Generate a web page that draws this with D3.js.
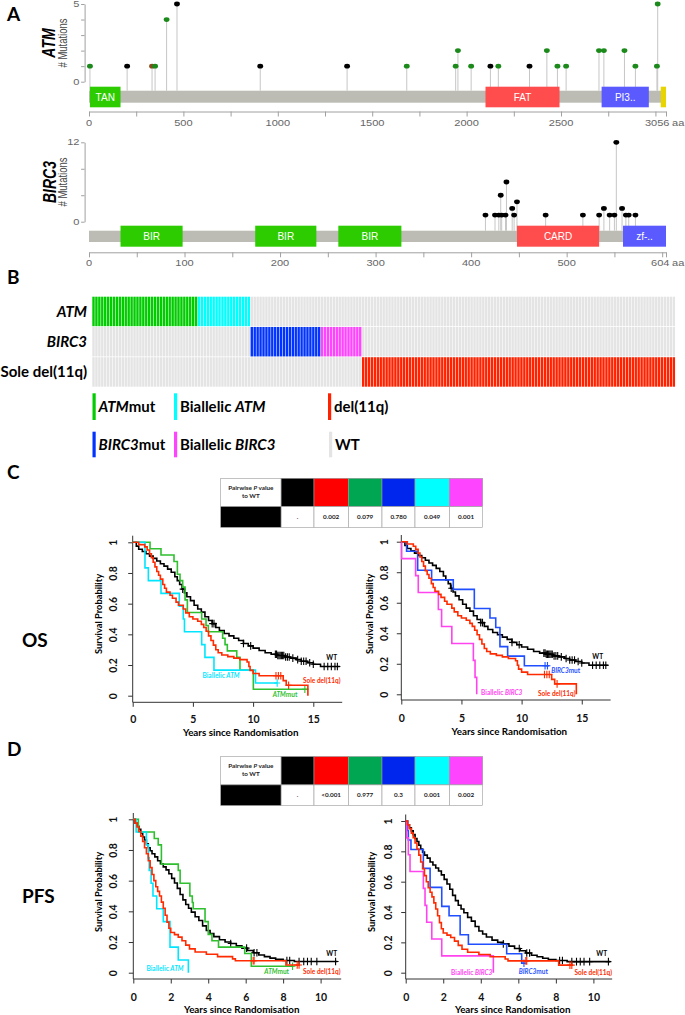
<!DOCTYPE html>
<html>
<head>
<meta charset="utf-8">
<script src="https://cdn.jsdelivr.net/npm/d3@7/dist/d3.min.js"></script>
<style>
html,body{margin:0;padding:0;background:#fff;}
svg{display:block;}
</style>
</head>
<body>
<svg id="fig" width="685" height="1015"></svg>
<script>
// ================= DATA =================
// Panel A – ATM lollipop
const atmLength = 3056;
const atmPositions = [5, 202, 334, 350, 411, 466, 907, 1367, 1683, 1942, 1954, 2024, 2126, 2168, 2333, 2425, 2481, 2527, 2701, 2727, 2836, 2894, 3008, 3012];
const atmCounts    = [1, 1, 1, 1, 4, 5, 1, 1, 1, 1, 2, 1, 1, 1, 1, 2, 1, 1, 2, 2, 2, 1, 1, 5];
const atmTypes     = ['missense','truncating','other','missense','missense','truncating','truncating','truncating','missense','missense','missense','missense','truncating','missense','truncating','missense','missense','missense','missense','missense','missense','missense','missense','missense'];
const atmDomainNames = ['TAN', 'FAT', 'PI3..', 'FATC'];
const atmDomainStart = [5, 2100, 2715, 3028];
const atmDomainEnd   = [167, 2492, 2965, 3056];
const atmYTicks = [0, 1, 2, 3, 4, 5];
const atmXTicks = [0, 250, 500, 750, 1000, 1250, 1500, 1750, 2000, 2250, 2500, 2750, 3000, 3056];
const atmXLabels = [0, 500, 1000, 1500, 2000, 2500];

// Panel A – BIRC3 lollipop
const birc3Length = 604;
const birc3Positions = [415, 425, 429, 431, 432, 436, 437, 443, 445, 448, 478, 517, 534, 539, 545, 550, 552, 558, 562, 565, 572];
const birc3Counts    = [1, 1, 1, 4, 1, 1, 6, 2, 1, 3, 1, 1, 1, 2, 1, 1, 12, 2, 1, 1, 1];
const birc3Types     = birc3Positions.map(() => 'truncating');
const birc3DomainNames = ['BIR', 'BIR', 'BIR', 'CARD', 'zf-..'];
const birc3DomainStart = [33, 174, 261, 448, 559];
const birc3DomainEnd   = [98, 238, 327, 534, 604];
const birc3YTicks = [0, 4, 8, 12];
const birc3XTicks = [0, 50, 100, 150, 200, 250, 300, 350, 400, 450, 500, 550, 600, 604];
const birc3XLabels = [0, 100, 200, 300, 400, 500];

// Panel B – patient groups
const bRows = ['ATM', 'BIRC3', 'Sole del(11q)'];
const bGroups = ['ATMmut', 'Biallelic ATM', 'BIRC3mut', 'Biallelic BIRC3', 'del(11q)'];
const bGroupRow = ['ATM', 'ATM', 'BIRC3', 'BIRC3', 'Sole del(11q)'];
const bCounts = [36, 18, 24, 14, 107];

// Pairwise P value tables
const pTableGroups = ['WT', 'del(11q)', 'ATMmut', 'BIRC3mut', 'Biallelic ATM', 'Biallelic BIRC3'];
const osPValues  = ['.', '0.002', '0.079', '0.780', '0.049', '0.001'];
const pfsPValues = ['.', '<0.001', '0.977', '0.3', '0.001', '0.002'];

// OS curves (years, survival)
const osWT_t = [0,0.3,0.5,0.8,1.1,1.4,1.7,2.0,2.3,2.6,2.9,3.2,3.5,3.7,3.9,4.1,4.3,4.5,4.8,5.1,5.4,5.7,6.0,6.3,6.6,6.9,7.2,7.6,8.0,8.4,8.8,9.2,9.6,10.0,10.5,11.0,11.5,12.0,12.6,13.1,13.6,14.0,14.5,15.0,15.6];
const osWT_s = [1,0.975,0.955,0.94,0.925,0.91,0.895,0.878,0.86,0.845,0.825,0.805,0.775,0.75,0.725,0.695,0.67,0.645,0.62,0.59,0.565,0.545,0.515,0.49,0.47,0.445,0.425,0.405,0.39,0.375,0.36,0.34,0.325,0.31,0.295,0.28,0.27,0.262,0.252,0.245,0.235,0.225,0.215,0.205,0.19];
const osWT_end = 17.2;
const osWT_cens = [4.15,6.6,6.75,9.2,9.8,11.85,11.95,12.05,12.15,12.25,12.35,12.45,12.55,12.7,12.85,13.0,13.3,13.7,14.0,14.2,14.4,14.7,15.0,15.9,16.2,16.5,16.8,17.0];

const osDel_t = [0,0.5,1.0,1.2,1.4,1.55,1.7,1.85,2.0,2.15,2.3,2.5,2.65,2.8,3.1,3.3,3.6,3.8,4.2,4.4,4.7,5.0,5.4,5.7,5.9,6.1,6.3,6.5,6.7,6.9,7.1,7.4,7.9,8.4,8.9,9.5,9.65,9.75,10.0,10.5,12.5,12.75,14.55];
const osDel_s = [1,0.985,0.97,0.95,0.925,0.9,0.87,0.84,0.81,0.785,0.76,0.725,0.7,0.675,0.655,0.635,0.61,0.59,0.565,0.54,0.515,0.5,0.485,0.465,0.445,0.42,0.39,0.36,0.33,0.3,0.28,0.265,0.255,0.245,0.235,0.22,0.19,0.165,0.145,0.13,0.098,0.068,0];
const osDel_end = 14.55;
const osDel_cens = [11.9,12.1,12.3,12.95];

const osATMmut_t = [0,1.44,2.35,3.43,3.71,3.93,4.15,4.35,4.54,5.73,6.09,6.28,7.47,7.67,7.86,8.64,8.91,10.02];
const osATMmut_s = [1,0.958,0.917,0.875,0.792,0.75,0.708,0.625,0.542,0.5,0.458,0.417,0.375,0.333,0.292,0.25,0.167,0.042];
const osATMmut_end = 14.6;
const osATMmut_cens = [14.3];

const osBiATM_t = [0,1.02,1.3,2.35,3.87,4.2,4.3,5.73,6.0,6.75,10.2];
const osBiATM_s = [1,0.833,0.75,0.667,0.583,0.5,0.417,0.333,0.25,0.167,0.083];
const osBiATM_end = 12.0;
const osBiATM_cens = [12.0];

const osBIRC3mut_t = [0,0.44,1.36,2.52,4.32,6.07,7.37,7.85,8.2,8.84,10.23];
const osBIRC3mut_s = [1,0.9375,0.8125,0.75,0.6875,0.5625,0.5,0.4375,0.3125,0.25,0.1875];
const osBIRC3mut_end = 12.3;
const osBIRC3mut_cens = [11.95,12.15];

const osBiBIRC3_t = [0,0.03,1.19,1.41,3.08,3.35,4.2,5.99,6.13,6.27];
const osBiBIRC3_s = [1,0.889,0.778,0.667,0.556,0.444,0.333,0.222,0.111,0];
const osBiBIRC3_end = 6.27;
const osBiBIRC3_cens = [];

// PFS curves
const pfsWT_t = [0,0.1,0.2,0.3,0.4,0.5,0.6,0.7,0.8,0.9,1.0,1.15,1.3,1.45,1.6,1.75,1.9,2.05,2.2,2.35,2.5,2.65,2.8,2.95,3.1,3.3,3.5,3.7,3.9,4.1,4.3,4.6,4.9,5.2,5.5,5.8,6.1,6.4,6.7,7.0,7.3,7.6,8.0,8.6];
const pfsWT_s = [1,0.975,0.955,0.935,0.91,0.885,0.865,0.84,0.815,0.795,0.775,0.755,0.73,0.71,0.69,0.67,0.645,0.615,0.585,0.55,0.51,0.475,0.445,0.42,0.395,0.365,0.34,0.305,0.275,0.255,0.235,0.215,0.2,0.19,0.175,0.16,0.145,0.13,0.115,0.105,0.095,0.087,0.08,0.073];
const pfsWT_end = 10.9;
const pfsWT_cens = [5.2,6.05,6.45,6.6,8.2,8.35,8.85,9.1,9.3,9.5,9.8,10.8];

const pfsDel_t = [0,0.1,0.2,0.3,0.4,0.5,0.6,0.7,0.8,0.9,1.0,1.1,1.2,1.3,1.4,1.5,1.6,1.7,1.8,1.9,2.0,2.2,2.4,2.6,2.8,3.0,3.3,3.9,4.5,5.3,5.45,8.15];
const pfsDel_s = [1,0.975,0.95,0.92,0.89,0.855,0.815,0.775,0.73,0.685,0.64,0.6,0.56,0.53,0.5,0.46,0.42,0.375,0.33,0.29,0.262,0.248,0.232,0.208,0.18,0.155,0.135,0.12,0.105,0.09,0.078,0.05];
const pfsDel_end = 8.9;
const pfsDel_cens = [6.4,6.45,8.75,8.85];

const pfsATMmut_t = [0,0.27,1.12,1.33,1.5,2.4,2.5,3.02,3.15,3.2,3.83,4.0,4.2,4.55,5.95,6.3];
const pfsATMmut_s = [1,0.917,0.875,0.833,0.708,0.667,0.583,0.5,0.458,0.417,0.333,0.25,0.208,0.167,0.125,0.042];
const pfsATMmut_end = 8.55;
const pfsATMmut_cens = [8.5];

const pfsBiATM_t = [0,0.15,0.7,0.8,0.85,0.95,1.05,1.25,1.6,1.96,2.4,2.94];
const pfsBiATM_s = [1,0.917,0.833,0.75,0.667,0.583,0.5,0.417,0.333,0.167,0.083,0];
const pfsBiATM_end = 2.94;
const pfsBiATM_cens = [];

const pfsBIRC3mut_t = [0,0.09,0.14,0.28,0.94,1.3,1.92,2.31,2.9,3.34,5.38,6.18];
const pfsBIRC3mut_s = [1,0.9375,0.875,0.8125,0.6875,0.5625,0.4375,0.375,0.25,0.1875,0.125,0.0625];
const pfsBIRC3mut_end = 6.36;
const pfsBIRC3mut_cens = [6.3];

const pfsBiBIRC3_t = [0,0.05,0.14,0.23,0.94,1.03,1.12,1.39,1.92,4.67];
const pfsBiBIRC3_s = [1,0.889,0.778,0.667,0.556,0.444,0.333,0.222,0.111,0];
const pfsBiBIRC3_end = 4.67;
const pfsBiBIRC3_cens = [];

const kmYTicks = [0, 0.2, 0.4, 0.6, 0.8, 1];
const osXTicks = [0, 5, 10, 15];
const pfsXTicks = [0, 2, 4, 6, 8, 10];

// ================= STYLE =================
const SANS = 'Lato, "Open Sans", "DejaVu Sans", sans-serif';
const HELV = '"Liberation Sans", Arial, Helvetica, sans-serif';
const SX = 1.3;
const mutColor = {missense: '#1b8a1b', truncating: '#000000', other: '#8b4a1c'};
const domainColor = {'TAN': '#2ccc00', 'FAT': '#ff4d4d', 'PI3..': '#5a5aff', 'FATC': '#e8d400',
                     'BIR': '#2ccc00', 'CARD': '#ff4d4d', 'zf-..': '#5a5aff'};
const groupColor = {'ATMmut': '#00cc00', 'Biallelic ATM': '#00ffff', 'BIRC3mut': '#0033ff',
                    'Biallelic BIRC3': '#ff44ff', 'del(11q)': '#ff2200', 'WT': '#e4e4e4'};
const tableColor = {'WT': '#000000', 'del(11q)': '#ff0000', 'ATMmut': '#00a651', 'BIRC3mut': '#0026ee',
                    'Biallelic ATM': '#00ffff', 'Biallelic BIRC3': '#ff44ff'};
const kmColor = {'WT': '#000000', 'del': '#ff2a00', 'ATMmut': '#2fbf2f', 'BiATM': '#00e6ff',
                 'BIRC3mut': '#1f4fff', 'BiBIRC3': '#ff44ee'};

const svg = d3.select('#fig');

function rich(g, x, y, parts, o) {
  const t = g.append('text').attr('x', x).attr('y', y)
    .attr('font-family', o.family || SANS).attr('font-size', o.size)
    .attr('font-weight', o.weight || 'bold').attr('fill', o.fill || '#000')
    .attr('text-anchor', o.anchor || 'start');
  parts.forEach(p => t.append('tspan').attr('font-style', p[1] ? 'italic' : 'normal').text(p[0]));
  return t;
}
function stxt(g, x, y, s, size, anchor, fill) {
  return g.append('text').attr('transform', `translate(${x},${y}) scale(${SX},1)`)
    .attr('font-family', HELV).attr('font-size', size).attr('text-anchor', anchor)
    .attr('fill', fill || '#666').text(s);
}

// ================= PANEL LABELS =================
[['A', 7, 21], ['B', 7, 283.5], ['C', 7, 478.5], ['D', 7, 756]].forEach(d => {
  svg.append('text').attr('x', d[1]).attr('y', d[2]).attr('font-family', SANS)
    .attr('font-weight', 'bold').attr('font-size', 19).text(d[0]);
});
svg.append('text').attr('x', 22).attr('y', 647).attr('font-family', SANS)
  .attr('font-weight', 'bold').attr('font-size', 19).text('OS');
svg.append('text').attr('x', 22).attr('y', 903).attr('font-family', SANS)
  .attr('font-weight', 'bold').attr('font-size', 19).text('PFS');

// ================= PANEL A =================
function lollipop(o) {
  const g = svg.append('g');
  const x = d3.scaleLinear().domain([0, o.len]).range([89, 666]);
  const y = d3.scaleLinear().domain([0, o.ymax]).range([o.yZero, o.yTop]);
  const ya = g.append('g').attr('transform', 'translate(84.6,0)')
    .call(d3.axisLeft(y).tickValues(o.yTicks).tickSize(3.5).tickSizeOuter(0).tickFormat(''));
  ya.selectAll('path,line').attr('stroke', '#a0a0a0');
  [0, o.ymax].forEach(v => stxt(g, 79.5, y(v) + 3, String(v), 8.5, 'end'));
  g.append('text').attr('transform', `translate(${o.geneX},${o.midY}) scale(${SX},1) rotate(-90)`)
    .attr('font-family', HELV).attr('font-size', 14).attr('font-weight', 'bold')
    .attr('font-style', 'italic').attr('text-anchor', 'middle').text(o.gene);
  g.append('text').attr('transform', `translate(67,${o.midY}) scale(${SX},1) rotate(-90)`)
    .attr('font-family', HELV).attr('font-size', 9.5).attr('fill', '#444')
    .attr('text-anchor', 'middle').text('# Mutations');
  const idx = d3.range(o.pos.length);
  g.selectAll('line.stem').data(idx).join('line').attr('class', 'stem')
    .attr('x1', i => x(o.pos[i])).attr('x2', i => x(o.pos[i]))
    .attr('y1', o.barTop).attr('y2', i => y(o.cnt[i]))
    .attr('stroke', '#c6c6c6').attr('stroke-width', 1);
  g.append('rect').attr('x', x(0)).attr('width', x(o.len) - x(0))
    .attr('y', o.barTop).attr('height', o.barH).attr('fill', '#bcbcb4');
  const di = d3.range(o.domNames.length);
  g.selectAll('rect.dom').data(di).join('rect').attr('class', 'dom')
    .attr('x', i => x(o.domStart[i])).attr('width', i => x(o.domEnd[i]) - x(o.domStart[i]))
    .attr('y', o.domTop).attr('height', o.domH).attr('fill', i => domainColor[o.domNames[i]]);
  g.selectAll('text.dom').data(di.filter(i => x(o.domEnd[i]) - x(o.domStart[i]) > 15)).join('text')
    .attr('class', 'dom')
    .attr('x', i => (x(o.domStart[i]) + x(o.domEnd[i])) / 2).attr('y', o.domTop + o.domH / 2 + 3.6)
    .attr('text-anchor', 'middle').attr('font-family', HELV).attr('font-size', 10)
    .attr('fill', '#fff').text(i => o.domNames[i]);
  g.selectAll('ellipse.dot').data(idx).join('ellipse').attr('class', 'dot')
    .attr('cx', i => x(o.pos[i])).attr('cy', i => y(o.cnt[i]))
    .attr('rx', 2.9).attr('ry', 2.4).attr('fill', i => mutColor[o.type[i]]);
  const xa = g.append('g').attr('transform', `translate(0,${o.axisY})`)
    .call(d3.axisBottom(x).tickValues(o.xTicks).tickSize(5).tickSizeOuter(0).tickFormat(''));
  xa.selectAll('path,line').attr('stroke', '#a0a0a0');
  o.xLabels.forEach(v => stxt(g, x(v), o.labY, String(v), 8.5, 'middle'));
  stxt(g, x(o.len) + 3.5, o.labY, String(o.len), 8.5, 'end');
  stxt(g, x(o.len) + 6, o.labY, 'aa', 8.5, 'start');
}
lollipop({gene: 'ATM', len: atmLength, pos: atmPositions, cnt: atmCounts, type: atmTypes,
  domNames: atmDomainNames, domStart: atmDomainStart, domEnd: atmDomainEnd,
  ymax: 5, yTicks: atmYTicks, xTicks: atmXTicks, xLabels: atmXLabels,
  yZero: 81.7, yTop: 4, barTop: 90.7, barH: 12, domTop: 86.7, domH: 20.6,
  axisY: 111.5, labY: 125.5, geneX: 54.5, midY: 43});
lollipop({gene: 'BIRC3', len: birc3Length, pos: birc3Positions, cnt: birc3Counts, type: birc3Types,
  domNames: birc3DomainNames, domStart: birc3DomainStart, domEnd: birc3DomainEnd,
  ymax: 12, yTicks: birc3YTicks, xTicks: birc3XTicks, xLabels: birc3XLabels,
  yZero: 221.7, yTop: 142.3, barTop: 230.7, barH: 11.3, domTop: 225.7, domH: 21,
  axisY: 252.3, labY: 265.5, geneX: 55.5, midY: 182});

// ================= PANEL B =================
(function () {
  const g = svg.append('g');
  const patients = bGroups.flatMap((grp, i) => d3.range(bCounts[i]).map(() => grp));
  const x = d3.scaleBand().domain(d3.range(patients.length)).range([92.3, 675]).paddingInner(0.2);
  const y = d3.scaleBand().domain(bRows).range([296.7, 386.7]).paddingInner(0.025);
  const cells = [];
  bRows.forEach(r => patients.forEach((p, j) => {
    const row = bGroupRow[bGroups.indexOf(p)];
    cells.push({r: r, j: j, fill: row === r ? groupColor[p] : groupColor['WT']});
  }));
  g.selectAll('rect').data(cells).join('rect')
    .attr('x', d => x(d.j)).attr('width', x.bandwidth() + 0.05)
    .attr('y', d => y(d.r)).attr('height', y.bandwidth())
    .attr('fill', d => d.fill);
  const rowParts = {'ATM': [['ATM', true]], 'BIRC3': [['BIRC3', true]], 'Sole del(11q)': [['Sole del(11q)', false]]};
  bRows.forEach(r => rich(g, 87, y(r) + y.bandwidth() / 2 + 5.3, rowParts[r], {size: 15, anchor: 'end'}));
  // legend
  const legend = [
    {grp: 'ATMmut', parts: [['ATM', true], ['mut', false]], x: 92.5, row: 0},
    {grp: 'Biallelic ATM', parts: [['Biallelic ', false], ['ATM', true]], x: 174, row: 0},
    {grp: 'del(11q)', parts: [['del(11q)', false]], x: 328, row: 0},
    {grp: 'BIRC3mut', parts: [['BIRC3', true], ['mut', false]], x: 92.5, row: 1},
    {grp: 'Biallelic BIRC3', parts: [['Biallelic ', false], ['BIRC3', true]], x: 174, row: 1},
    {grp: 'WT', parts: [['WT', false]], x: 329, row: 1}
  ];
  const rowTop = [393.3, 431.7], rowH = [26.7, 25.6];
  legend.forEach(l => {
    g.append('rect').attr('x', l.x).attr('y', rowTop[l.row]).attr('width', 3.2)
      .attr('height', rowH[l.row]).attr('fill', groupColor[l.grp]);
    rich(g, l.x + 6, rowTop[l.row] + rowH[l.row] / 2 + 5.3, l.parts, {size: 15});
  });
})();

// ================= TABLES =================
function pTable(top, vals) {
  const g = svg.append('g');
  const cols = [220.7, 281, 314, 348.3, 382, 415, 449.3, 482.7];
  const h1 = 28.4, h2 = 20.6;
  pTableGroups.forEach((grp, i) => {
    g.append('rect').attr('x', cols[i + 1]).attr('y', top).attr('width', cols[i + 2] - cols[i + 1])
      .attr('height', h1).attr('fill', tableColor[grp]).attr('stroke', '#9a9a9a').attr('stroke-width', 0.6);
    g.append('rect').attr('x', cols[i + 1]).attr('y', top + h1).attr('width', cols[i + 2] - cols[i + 1])
      .attr('height', h2).attr('fill', '#fff').attr('stroke', '#9a9a9a').attr('stroke-width', 0.6);
    g.append('text').attr('x', (cols[i + 1] + cols[i + 2]) / 2).attr('y', top + h1 + h2 / 2 + 2.2)
      .attr('text-anchor', 'middle').attr('font-family', SANS).attr('font-weight', 'bold')
      .attr('font-size', 6.3).attr('fill', '#222').text(vals[i]);
  });
  g.append('rect').attr('x', cols[0]).attr('y', top).attr('width', cols[1] - cols[0]).attr('height', h1)
    .attr('fill', '#fff').attr('stroke', '#9a9a9a').attr('stroke-width', 0.6);
  g.append('rect').attr('x', cols[0]).attr('y', top + h1).attr('width', cols[1] - cols[0]).attr('height', h2)
    .attr('fill', '#000').attr('stroke', '#9a9a9a').attr('stroke-width', 0.6);
  const cx = (cols[0] + cols[1]) / 2;
  rich(g, cx, top + 11.5, [['Pairwise ', false], ['P', true], [' value', false]], {size: 6.3, anchor: 'middle', fill: '#222'});
  rich(g, cx, top + 19.5, [['to WT', false]], {size: 6.3, anchor: 'middle', fill: '#222'});
}
pTable(478.3, osPValues);
pTable(756.5, pfsPValues);

// ================= KM PLOTS =================
function km(o) {
  const g = svg.append('g');
  const x = d3.scaleLinear().domain([0, o.tmax]).range([o.x0, o.x0 + o.tmax * o.ppy]);
  const y = d3.scaleLinear().domain([0, 1]).range([o.y0, o.y1]);
  // axes
  const ya = g.append('g').attr('transform', `translate(${o.x0},0)`)
    .call(d3.axisLeft(y).tickValues(kmYTicks).tickSize(4.5).tickSizeOuter(0)
      .tickFormat(d => d === 0 ? '0' : d === 1 ? '1' : d3.format('.1f')(d)));
  ya.select('.domain').remove();
  ya.selectAll('.tick line').attr('stroke', '#333');
  ya.selectAll('.tick text').attr('x', null).attr('dy', null).attr('y', null)
    .attr('transform', `translate(${o.ylabOff},0) rotate(-90)`).attr('text-anchor', 'middle')
    .attr('font-family', SANS).attr('font-weight', 'bold').attr('font-size', 10.5).attr('fill', '#111');
  g.append('line').attr('x1', o.x0).attr('x2', o.x0).attr('y1', o.top).attr('y2', o.axisY).attr('stroke', '#333');
  const xa = g.append('g').attr('transform', `translate(0,${o.axisY})`)
    .call(d3.axisBottom(x).tickValues(o.xticks).tickSize(4.5).tickSizeOuter(0));
  xa.select('.domain').remove();
  xa.selectAll('.tick line').attr('stroke', '#333');
  xa.selectAll('.tick text').attr('dy', null).attr('y', o.xlabBase - o.axisY)
    .attr('font-family', SANS).attr('font-weight', 'bold').attr('font-size', 10.5).attr('fill', '#111');
  g.append('line').attr('x1', o.x0).attr('x2', x(o.tmax)).attr('y1', o.axisY).attr('y2', o.axisY).attr('stroke', '#333');
  g.append('text').attr('transform', `translate(${o.survX},${o.survY}) rotate(-90)`)
    .attr('text-anchor', 'middle').attr('font-family', SANS).attr('font-weight', 'bold')
    .attr('font-size', 9.3).text('Survival Probability');
  g.append('text').attr('x', o.yearsX).attr('y', o.yearsY)
    .attr('text-anchor', 'middle').attr('font-family', SANS).attr('font-weight', 'bold')
    .attr('font-size', 9.8).text('Years since Randomisation');
  // curves
  const line = d3.line().x(d => x(d[0])).y(d => y(d[1])).curve(d3.curveStepAfter);
  o.series.forEach(s => {
    const pts = s.t.map((ti, i) => [ti, s.s[i]]);
    if (s.end > s.t[s.t.length - 1]) pts.push([s.end, s.s[s.s.length - 1]]);
    g.append('path').attr('d', line(pts)).attr('fill', 'none').attr('stroke', kmColor[s.key])
      .attr('stroke-width', 1.6);
    s.cens.forEach(c => {
      const v = s.s[Math.max(0, d3.bisectRight(s.t, c) - 1)];
      const cx = x(c), cy = y(v);
      g.append('path').attr('d', `M${cx - 3},${cy}H${cx + 3}M${cx},${cy - 3.8}V${cy + 3.8}`)
        .attr('stroke', kmColor[s.key]).attr('stroke-width', 1.1).attr('fill', 'none');
    });
  });
  o.labels.forEach(l => rich(g, l.x, l.y, l.parts, {size: 6.5, anchor: 'middle', fill: kmColor[l.key]}));
}

km({x0: 132.7, ppy: 12.04, tmax: 17.4, y1: 542.3, y0: 695.7, top: 535.7, axisY: 702.3,
  xticks: osXTicks, ylabOff: -15.7, xlabBase: 723, survX: 101.5, survY: 614, yearsX: 240.7, yearsY: 735.5,
  series: [
    {key: 'WT', t: osWT_t, s: osWT_s, end: osWT_end, cens: osWT_cens},
    {key: 'ATMmut', t: osATMmut_t, s: osATMmut_s, end: osATMmut_end, cens: osATMmut_cens},
    {key: 'BiATM', t: osBiATM_t, s: osBiATM_s, end: osBiATM_end, cens: osBiATM_cens},
    {key: 'del', t: osDel_t, s: osDel_s, end: osDel_end, cens: osDel_cens}],
  labels: [
    {key: 'WT', x: 331.7, y: 660, parts: [['WT', false]]},
    {key: 'del', x: 321.7, y: 683, parts: [['Sole del(11q)', false]]},
    {key: 'ATMmut', x: 285, y: 696.5, parts: [['ATM', true], ['mut', false]]},
    {key: 'BiATM', x: 221, y: 678.3, parts: [['Biallelic ', false], ['ATM', true]]}]});

km({x0: 401.3, ppy: 12.03, tmax: 17.4, y1: 541.7, y0: 694.3, top: 535, axisY: 700,
  xticks: osXTicks, ylabOff: -13.3, xlabBase: 722, survX: 372.5, survY: 614, yearsX: 509.3, yearsY: 735,
  series: [
    {key: 'WT', t: osWT_t, s: osWT_s, end: osWT_end, cens: osWT_cens},
    {key: 'BIRC3mut', t: osBIRC3mut_t, s: osBIRC3mut_s, end: osBIRC3mut_end, cens: osBIRC3mut_cens},
    {key: 'BiBIRC3', t: osBiBIRC3_t, s: osBiBIRC3_s, end: osBiBIRC3_end, cens: osBiBIRC3_cens},
    {key: 'del', t: osDel_t, s: osDel_s, end: osDel_end, cens: osDel_cens}],
  labels: [
    {key: 'WT', x: 597.7, y: 659, parts: [['WT', false]]},
    {key: 'BIRC3mut', x: 565.7, y: 673.3, parts: [['BIRC3', true], ['mut', false]]},
    {key: 'del', x: 556.7, y: 696.3, parts: [['Sole del(11q)', false]]},
    {key: 'BiBIRC3', x: 501.7, y: 694.6, parts: [['Biallelic ', false], ['BIRC3', true]]}]});

km({x0: 133.3, ppy: 18.73, tmax: 11.1, y1: 819.3, y0: 972.7, top: 813, axisY: 979,
  xticks: pfsXTicks, ylabOff: -16.3, xlabBase: 1000.5, survX: 101.5, survY: 892, yearsX: 241.7, yearsY: 1013,
  series: [
    {key: 'WT', t: pfsWT_t, s: pfsWT_s, end: pfsWT_end, cens: pfsWT_cens},
    {key: 'ATMmut', t: pfsATMmut_t, s: pfsATMmut_s, end: pfsATMmut_end, cens: pfsATMmut_cens},
    {key: 'BiATM', t: pfsBiATM_t, s: pfsBiATM_s, end: pfsBiATM_end, cens: pfsBiATM_cens},
    {key: 'del', t: pfsDel_t, s: pfsDel_s, end: pfsDel_end, cens: pfsDel_cens}],
  labels: [
    {key: 'WT', x: 331.7, y: 955.6, parts: [['WT', false]]},
    {key: 'del', x: 321.7, y: 974, parts: [['Sole del(11q)', false]]},
    {key: 'ATMmut', x: 276.7, y: 974, parts: [['ATM', true], ['mut', false]]},
    {key: 'BiATM', x: 165, y: 970.6, parts: [['Biallelic ', false], ['ATM', true]]}]});

km({x0: 405.7, ppy: 18.77, tmax: 11.0, y1: 821, y0: 972.7, top: 814.5, axisY: 979,
  xticks: pfsXTicks, ylabOff: -13.7, xlabBase: 1000.5, survX: 375, survY: 892, yearsX: 512.7, yearsY: 1013,
  series: [
    {key: 'WT', t: pfsWT_t, s: pfsWT_s, end: pfsWT_end, cens: pfsWT_cens},
    {key: 'BIRC3mut', t: pfsBIRC3mut_t, s: pfsBIRC3mut_s, end: pfsBIRC3mut_end, cens: pfsBIRC3mut_cens},
    {key: 'BiBIRC3', t: pfsBiBIRC3_t, s: pfsBiBIRC3_s, end: pfsBiBIRC3_end, cens: pfsBiBIRC3_cens},
    {key: 'del', t: pfsDel_t, s: pfsDel_s, end: pfsDel_end, cens: pfsDel_cens}],
  labels: [
    {key: 'WT', x: 601.7, y: 956.3, parts: [['WT', false]]},
    {key: 'BIRC3mut', x: 533.3, y: 974, parts: [['BIRC3', true], ['mut', false]]},
    {key: 'del', x: 593.3, y: 975, parts: [['Sole del(11q)', false]]},
    {key: 'BiBIRC3', x: 471.7, y: 975, parts: [['Biallelic ', false], ['BIRC3', true]]}]});
</script>
</body>
</html>
